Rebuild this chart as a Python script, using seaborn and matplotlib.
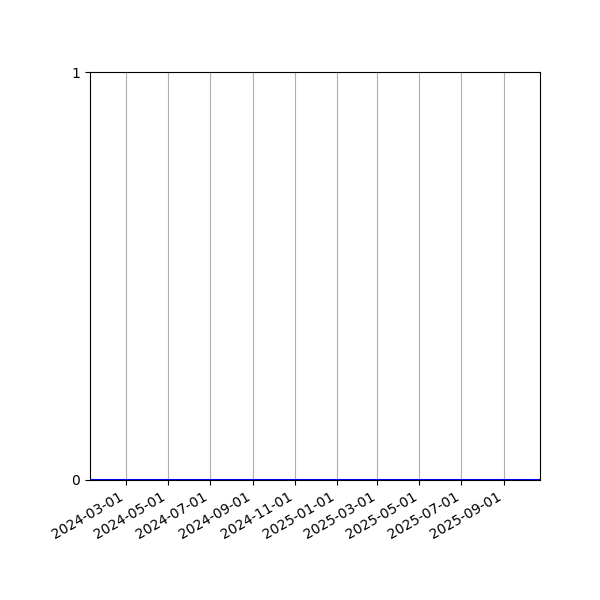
import matplotlib
matplotlib.use("Agg")
import matplotlib.pyplot as plt
import matplotlib.dates as mdates
import seaborn as sns
import pandas as pd

dates = ["2024-01-09", "2024-03-01", "2024-05-01", "2024-07-01", "2024-09-01",
         "2024-11-01", "2025-01-01", "2025-03-01", "2025-05-01", "2025-07-01",
         "2025-09-01", "2025-10-23"]
values = [0, 0, 0, 0, 0, 0, 0, 0, 0, 0, 0, 0]

df = pd.DataFrame({"date": pd.to_datetime(dates), "value": values})

fig, ax = plt.subplots(figsize=(6, 6), dpi=100)
sns.lineplot(data=df, x="date", y="value", ax=ax, color="blue", linewidth=1.5)
ax.set_xlim(df["date"].min(), df["date"].max())
ax.set_ylim(0, 1)
ax.set_yticks([0, 1])
ax.xaxis.set_major_locator(mdates.MonthLocator(bymonth=[1, 3, 5, 7, 9, 11]))
ax.xaxis.set_major_formatter(mdates.DateFormatter("%Y-%m-%d"))
ax.grid(axis="x", color="#b0b0b0", linewidth=0.8)
ax.set_xlabel("")
ax.set_ylabel("")
fig.autofmt_xdate()
fig.subplots_adjust(left=0.15, right=0.9, top=0.88, bottom=0.2)
fig.savefig("out.png", dpi=100)
